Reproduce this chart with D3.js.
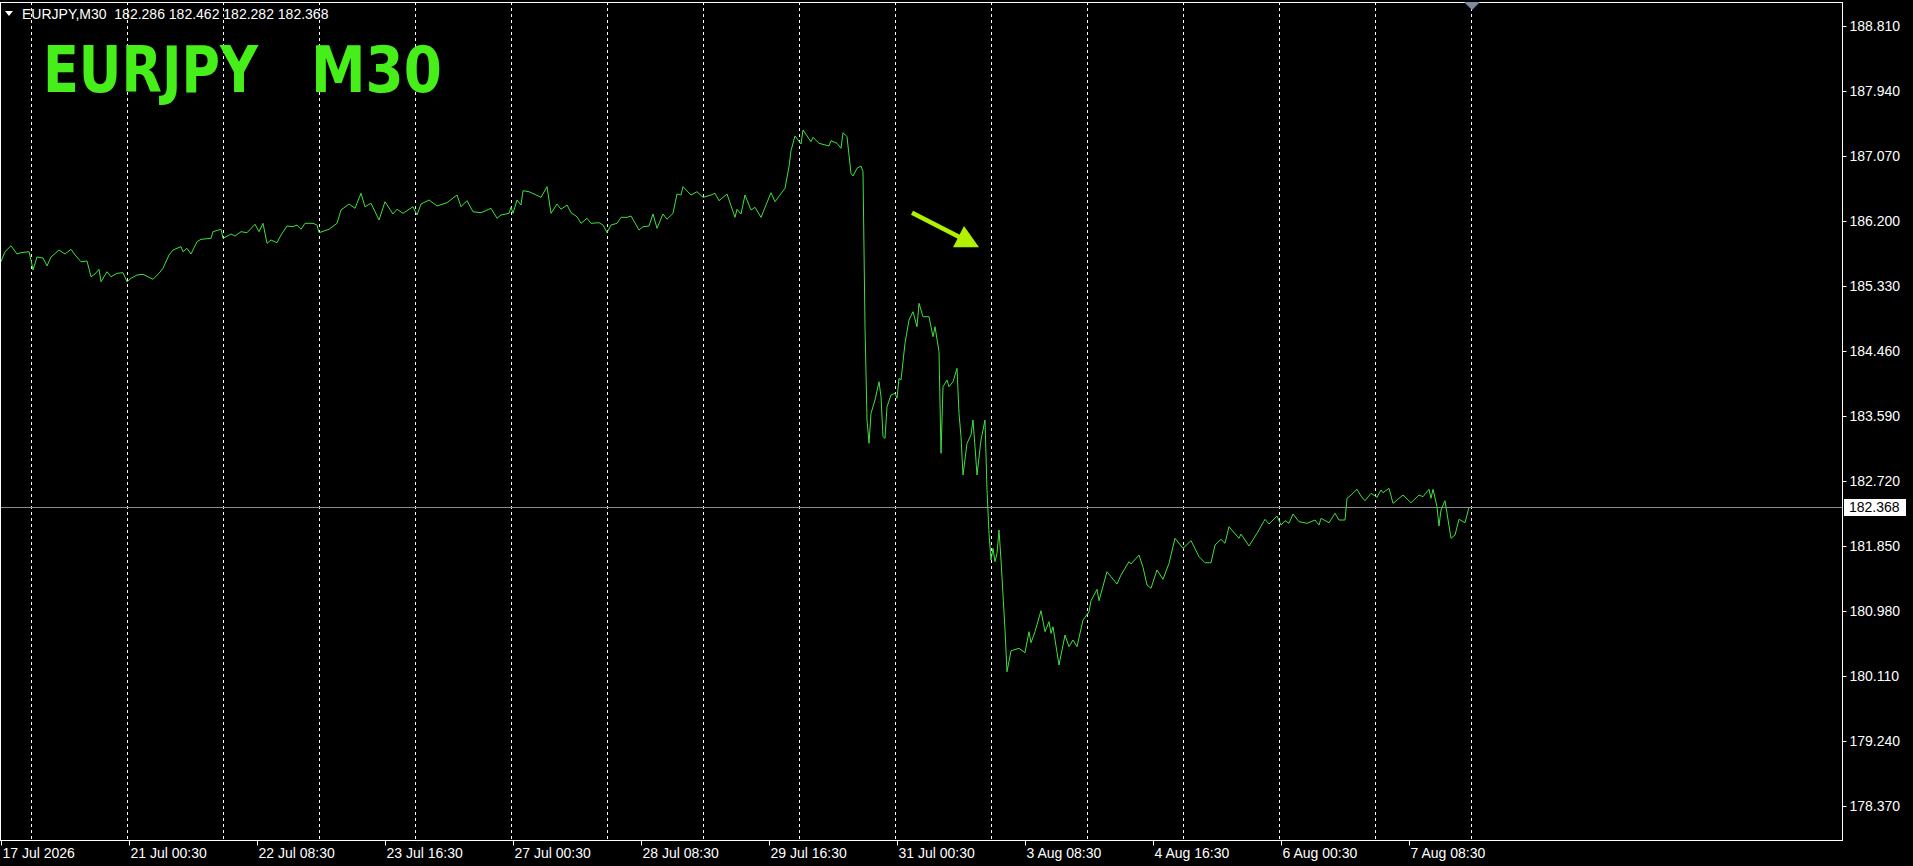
<!DOCTYPE html>
<html>
<head>
<meta charset="utf-8">
<script src="https://cdn.jsdelivr.net/npm/d3@7"></script>
<style>
  html, body { margin: 0; padding: 0; background: #000; overflow: hidden; }
  svg { display: block; }
</style>
</head>
<body>
<div id="chart"></div>
<script>
const WIDTH = 1913;
const HEIGHT = 866;
const PLOT_LEFT = 1;
const PLOT_RIGHT = 1842;
const PLOT_TOP = 2;
const PLOT_BOTTOM = 840;

const symbol = "EURJPY";
const period = "M30";
const ohlc = [182.286, 182.462, 182.282, 182.368];

// bar number (0 = 17 Jul 16:30, one bar per 30 min) and close at that bar
const barIndex = [
  0, 2, 5, 8, 10, 14, 15, 16, 18, 21, 23, 25, 29, 32, 35, 37, 40, 43, 45, 47,
  49, 50, 53, 55, 58, 61, 63, 65, 68, 71, 74, 76, 79, 81, 84, 86, 90, 91, 93, 95,
  98, 100, 105, 106, 110, 111, 115, 117, 120, 123, 127, 129, 131, 133, 135, 138, 140, 143, 146, 148,
  150, 152, 156, 158, 159, 164, 168, 170, 174, 177, 180, 182, 185, 189, 192, 196, 198, 201, 206, 208,
  210, 214, 218, 223, 228, 230, 233, 236, 240, 245, 248, 250, 254, 255, 256, 258, 260, 261, 264, 270,
  273, 275, 278, 280, 283, 285, 288, 290, 293, 295, 299, 301, 303, 305, 308, 310, 313, 315, 319, 321,
  324, 326, 328, 331, 333, 336, 338, 340, 341, 345, 348, 351, 355, 357, 359, 363, 367, 368, 370, 372,
  375, 377, 380, 385, 387, 392, 394, 395, 397, 400, 401, 405, 406, 409, 414, 415, 418, 420, 421, 423,
  425, 426, 428, 430, 431, 432, 433, 434, 435, 437, 439, 440, 441, 442, 443, 445, 447, 448, 449, 450,
  452, 454, 456, 458, 459, 461, 464, 466, 467, 469, 470, 471, 473, 474, 476, 478, 479, 480, 481, 483,
  485, 486, 487, 488, 490, 492, 493, 494, 495, 496, 497, 498, 499, 500, 502, 503, 505, 509, 512, 514,
  515, 517, 520, 522, 524, 525, 526, 529, 532, 534, 536, 538, 541, 544, 545, 548, 549, 553, 555, 558,
  560, 564, 565, 569, 571, 573, 575, 578, 581, 584, 587, 591, 595, 599, 602, 605, 607, 610, 612, 614,
  619, 620, 624, 628, 632, 634, 638, 640, 642, 644, 646, 649, 653, 657, 659, 660, 664, 667, 669, 672,
  673, 675, 678, 680, 682, 685, 688, 690, 691, 694, 696, 701, 705, 709, 711, 714, 715, 716, 718, 719,
  720, 722, 725, 727, 729, 732, 734
];
const closePrice = [
  185.655, 185.789, 185.869, 185.758, 185.776, 185.789, 185.678, 185.544, 185.718, 185.705,
  185.598, 185.718, 185.812, 185.758, 185.821, 185.745, 185.655, 185.664, 185.454, 185.491,
  185.553, 185.387, 185.521, 185.454, 185.500, 185.508, 185.387, 185.433, 185.477, 185.487,
  185.446, 185.420, 185.500, 185.567, 185.745, 185.812, 185.856, 185.789, 185.835, 185.758,
  185.923, 185.955, 185.968, 186.057, 186.089, 185.968, 186.026, 185.999, 186.057, 186.043,
  186.156, 186.057, 186.169, 185.901, 185.946, 185.909, 186.013, 186.133, 186.124, 186.146,
  186.089, 186.169, 186.169, 186.146, 186.043, 186.089, 186.169, 186.347, 186.427, 186.370,
  186.571, 186.391, 186.437, 186.213, 186.458, 186.294, 186.357, 186.303, 186.391, 186.280,
  186.427, 186.481, 186.401, 186.445, 186.548, 186.391, 186.472, 186.324, 186.311, 186.370,
  186.236, 186.280, 186.303, 186.383, 186.303, 186.481, 186.414, 186.605, 186.592, 186.517,
  186.659, 186.303, 186.427, 186.357, 186.414, 186.311, 186.257, 186.169, 186.236, 186.169,
  186.177, 186.146, 186.043, 186.146, 186.169, 186.249, 186.249, 186.267, 186.079, 186.124,
  186.133, 186.294, 186.102, 186.294, 186.223, 186.303, 186.561, 186.548, 186.659, 186.548,
  186.592, 186.517, 186.548, 186.571, 186.472, 186.561, 186.249, 186.357, 186.294, 186.548,
  186.347, 186.383, 186.249, 186.579, 186.458, 186.638, 186.927, 187.141, 187.338, 187.231,
  187.418, 187.261, 187.320, 187.240, 187.204, 187.275, 187.240, 187.173, 187.382, 187.328,
  186.838, 186.802, 186.905, 186.936, 186.860, 184.785, 183.536, 183.224, 183.626, 183.804,
  184.049, 183.848, 183.313, 183.291, 183.714, 183.871, 183.894, 183.827, 184.094, 184.072,
  184.563, 184.875, 184.986, 184.785, 185.098, 184.919, 184.919, 184.651, 184.785, 184.451,
  183.090, 183.982, 184.072, 183.982, 184.049, 184.228, 183.626, 183.313, 182.800, 183.224,
  183.336, 183.536, 183.179, 182.800, 183.269, 183.536, 182.599, 182.020, 181.662, 181.819,
  181.640, 181.752, 182.064, 181.662, 180.725, 180.167, 180.448, 180.480, 180.422, 180.703,
  180.556, 180.703, 180.984, 180.703, 180.837, 180.681, 180.769, 180.257, 180.658, 180.502,
  180.592, 180.502, 180.859, 180.970, 181.118, 181.270, 181.118, 181.506, 181.439, 181.341,
  181.462, 181.640, 181.609, 181.729, 181.565, 181.328, 181.284, 181.529, 181.404, 181.618,
  181.953, 181.819, 181.921, 181.707, 181.626, 181.626, 181.863, 181.939, 181.886, 182.108,
  181.953, 182.010, 181.850, 182.020, 182.207, 182.144, 182.251, 182.131, 182.188, 182.154,
  182.278, 182.175, 182.154, 182.198, 182.131, 182.220, 182.162, 182.287, 182.198, 182.198,
  182.488, 182.532, 182.609, 182.519, 182.456, 182.555, 182.502, 182.599, 182.563, 182.622,
  182.421, 182.532, 182.429, 182.532, 182.510, 182.609, 182.488, 182.609, 182.376, 182.117,
  182.332, 182.456, 181.953, 181.997, 182.207, 182.162, 182.368
];

const priceTicks = [188.81, 187.94, 187.07, 186.2, 185.33, 184.46, 183.59, 182.72, 181.85, 180.98, 180.11, 179.24, 178.37];
const timeTickBars = [0, 64, 128, 192, 256, 320, 384, 448, 512, 576, 640, 704];
const timeTickLabels = ["17 Jul 2026", "21 Jul 00:30", "22 Jul 08:30", "23 Jul 16:30", "27 Jul 00:30", "28 Jul 08:30",
  "29 Jul 16:30", "31 Jul 00:30", "3 Aug 08:30", "4 Aug 16:30", "6 Aug 00:30", "7 Aug 08:30"];
// day separators (00:00 of each trading day)
const dayStartBars = [15, 63, 111, 159, 207, 255, 303, 351, 399, 447, 495, 543, 591, 639, 687, 735];
const shiftMarkerBar = 735.5;
const arrowFrom = [455.5, 186.31];
const arrowTo = [489, 185.85];

const AXIS_FONT = "14px 'Liberation Sans', Arial, sans-serif";

var x = d3.scaleLinear().domain([0, 734]).range([1, 1469]);
var y = d3.scaleLinear().domain([178.37, 188.81]).range([806, 26]);

var svg = d3.select("#chart").append("svg")
    .attr("width", WIDTH)
    .attr("height", HEIGHT)
    .style("background", "#000");

// vertical dotted grid
svg.append("g")
    .selectAll("line")
    .data(dayStartBars)
    .enter().append("line")
    .attr("x1", d => Math.round(x(d)) + 0.5)
    .attr("x2", d => Math.round(x(d)) + 0.5)
    .attr("y1", PLOT_TOP)
    .attr("y2", PLOT_BOTTOM)
    .attr("stroke", "#ffffff")
    .attr("stroke-dasharray", "3,3")
    .attr("shape-rendering", "crispEdges");

// bid line
var lastClose = closePrice[closePrice.length - 1];
svg.append("line")
    .attr("x1", PLOT_LEFT)
    .attr("x2", PLOT_RIGHT)
    .attr("y1", Math.round(y(lastClose)) + 0.5)
    .attr("y2", Math.round(y(lastClose)) + 0.5)
    .attr("stroke", "#8c8c8c")
    .attr("shape-rendering", "crispEdges");

// close line
var line = d3.line()
    .x(d => x(d[0]))
    .y(d => y(d[1]));

svg.append("path")
    .attr("d", line(d3.zip(barIndex, closePrice)))
    .attr("fill", "none")
    .attr("stroke", "#3fe03f")
    .attr("stroke-width", 1);

// frame
svg.append("rect")
    .attr("x", 0.5)
    .attr("y", PLOT_TOP + 0.5)
    .attr("width", PLOT_RIGHT - 0.5)
    .attr("height", PLOT_BOTTOM - PLOT_TOP)
    .attr("fill", "none")
    .attr("stroke", "#ffffff")
    .attr("shape-rendering", "crispEdges");

// price axis
var yAxis = d3.axisRight(y)
    .tickValues(priceTicks)
    .tickFormat(d3.format(".3f"))
    .tickSize(4)
    .tickPadding(3);

svg.append("g")
    .attr("transform", "translate(" + (PLOT_RIGHT + 0.5) + ",0)")
    .call(yAxis)
    .call(g => g.select(".domain").remove())
    .call(g => g.selectAll("line").attr("stroke", "#fff"))
    .call(g => g.selectAll("text").attr("fill", "#fff").style("font", AXIS_FONT));

// time axis
var xAxis = d3.axisBottom(x)
    .tickValues(timeTickBars)
    .tickFormat((d, i) => timeTickLabels[i])
    .tickSize(5)
    .tickPadding(3);

svg.append("g")
    .attr("transform", "translate(0," + (PLOT_BOTTOM + 0.5) + ")")
    .call(xAxis)
    .call(g => g.select(".domain").remove())
    .call(g => g.selectAll("line").attr("stroke", "#fff"))
    .call(g => g.selectAll("text")
        .attr("fill", "#fff")
        .attr("text-anchor", "start")
        .attr("x", 1)
        .style("font", AXIS_FONT));

// last price label
var ly = Math.round(y(lastClose));
svg.append("rect")
    .attr("x", PLOT_RIGHT + 2)
    .attr("y", ly - 8)
    .attr("width", 62)
    .attr("height", 17)
    .attr("fill", "#ffffff");
svg.append("text")
    .attr("x", PLOT_RIGHT + 7)
    .attr("y", ly + 5)
    .attr("fill", "#000")
    .style("font", AXIS_FONT)
    .text(d3.format(".3f")(lastClose));

// chart shift marker
var sx = x(shiftMarkerBar);
svg.append("path")
    .attr("d", "M" + (sx - 8) + "," + PLOT_TOP + "L" + (sx + 8) + "," + PLOT_TOP + "L" + sx + "," + (PLOT_TOP + 8) + "Z")
    .attr("fill", "#7d8ca0");

// header
svg.append("path")
    .attr("d", "M5,11L13,11L9,16Z")
    .attr("fill", "#fff");
svg.append("text")
    .attr("x", 22)
    .attr("y", 19)
    .attr("fill", "#fff")
    .style("font", AXIS_FONT)
    .style("white-space", "pre")
    .text(symbol + "," + period + "  " + ohlc.map(d3.format(".3f")).join(" "));

// big title
var title = svg.append("g")
    .attr("fill", "#46ee1a")
    .style("font", "bold 64px 'DejaVu Sans', Verdana, sans-serif");
title.append("text")
    .attr("x", 43).attr("y", 92)
    .attr("textLength", 215)
    .attr("lengthAdjust", "spacingAndGlyphs")
    .text(symbol);
title.append("text")
    .attr("x", 311).attr("y", 92)
    .attr("textLength", 131)
    .attr("lengthAdjust", "spacingAndGlyphs")
    .text(period);

// arrow annotation
var ax0 = x(arrowFrom[0]), ay0 = y(arrowFrom[1]);
var ax1 = x(arrowTo[0]), ay1 = y(arrowTo[1]);
var len = Math.hypot(ax1 - ax0, ay1 - ay0);
var ux = (ax1 - ax0) / len, uy = (ay1 - ay0) / len;
var headLen = 23, headHalf = 12;
var bx = ax1 - ux * headLen, by = ay1 - uy * headLen;
svg.append("line")
    .attr("x1", ax0).attr("y1", ay0)
    .attr("x2", bx + ux * 2).attr("y2", by + uy * 2)
    .attr("stroke", "#b2f000")
    .attr("stroke-width", 4.5);
svg.append("path")
    .attr("d", "M" + ax1 + "," + ay1 +
        "L" + (bx - uy * headHalf) + "," + (by + ux * headHalf) +
        "L" + (bx + uy * headHalf) + "," + (by - ux * headHalf) + "Z")
    .attr("fill", "#b2f000");
</script>
</body>
</html>
